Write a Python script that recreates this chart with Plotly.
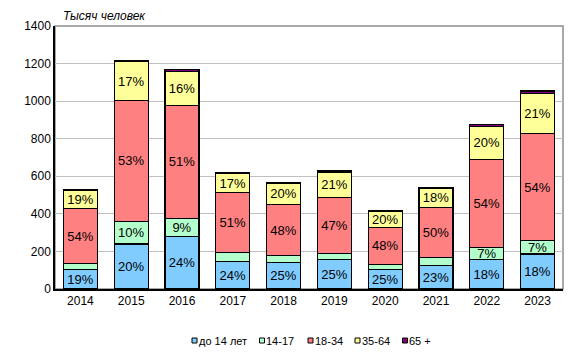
import plotly.graph_objects as go

years = ["2014", "2015", "2016", "2017", "2018", "2019", "2020", "2021", "2022", "2023"]
series_names = ["до 14 лет", "14-17", "18-34", "35-64", "65 +"]
colors = ["#80CCFF", "#B3FFCC", "#FF8080", "#FFFF99", "#800080"]

v_under14 = [103, 240, 280, 148, 142, 157, 105, 125, 158, 187]
v_14_17 = [34, 121, 96, 47, 35, 33, 26, 41, 63, 70]
v_18_34 = [290, 642, 602, 318, 274, 296, 197, 268, 470, 569]
v_35_64 = [98, 207, 181, 102, 110, 136, 85, 102, 174, 216]
v_65plus = [5, 7, 10, 5, 6, 6, 5, 6, 11, 12]

t_under14 = ["19%", "20%", "24%", "24%", "25%", "25%", "25%", "23%", "18%", "18%"]
t_14_17 = ["", "10%", "9%", "", "", "", "", "", "7%", "7%"]
t_18_34 = ["54%", "53%", "51%", "51%", "48%", "47%", "48%", "50%", "54%", "54%"]
t_35_64 = ["19%", "17%", "16%", "17%", "20%", "21%", "20%", "18%", "20%", "21%"]
t_65plus = [""] * 10

values = [v_under14, v_14_17, v_18_34, v_35_64, v_65plus]
texts = [t_under14, t_14_17, t_18_34, t_35_64, t_65plus]

fig = go.Figure()
for name, col, vals, txt in zip(series_names, colors, values, texts):
    fig.add_trace(go.Bar(
        x=years, y=vals, name=name, text=txt,
        marker=dict(color=col, line=dict(color="black", width=1.3)),
        textposition="inside", insidetextanchor="middle",
        textfont=dict(family="Arial, Liberation Sans", size=13, color="black"),
        constraintext="none", cliponaxis=False, showlegend=False,
    ))

# page has an 8px body margin, so the figure is offset by (8, 8)
fig.update_layout(
    barmode="stack", bargap=0.33,
    width=561, height=341,
    margin=dict(l=47, r=6, t=18, b=60),
    paper_bgcolor="white", plot_bgcolor="white",
    font=dict(family="Arial, Liberation Sans", size=12, color="black"),
)
fig.update_yaxes(range=[0, 1400], dtick=200, showgrid=True, gridcolor="#BFBFBF",
                 gridwidth=1, showline=True, linecolor="black", linewidth=1.5,
                 ticks="", tickfont=dict(size=12), zeroline=False)
fig.update_xaxes(showline=True, linecolor="black", linewidth=1.5, ticks="",
                 tickfont=dict(size=12))

# plot area border (top/right in gray)
fig.add_shape(type="rect", xref="paper", yref="paper", x0=0, x1=1, y0=0, y1=1,
              line=dict(color="#8C8C8C", width=1.5), layer="below")

fig.add_annotation(text="<i>Тысяч человек</i>", xref="paper", yref="paper",
                   x=7 / 508, y=1.0, yshift=18, xanchor="left", yanchor="top",
                   borderpad=0, showarrow=False, font=dict(size=12, color="black"))

# manual legend (page pixel positions of the symbol centres)
leg_x = [194.5, 262, 310.5, 357.5, 405]
leg_y = 340.5
for name, col, lx in zip(series_names, colors, leg_x):
    fig.add_shape(type="rect", xref="paper", yref="paper",
                  x0=(lx - 2.5 - 55) / 508, x1=(lx + 2.5 - 55) / 508,
                  y0=(289 - leg_y - 2.5) / 263, y1=(289 - leg_y + 2.5) / 263,
                  fillcolor=col, line=dict(color="black", width=1))
    fig.add_annotation(text=name, xref="paper", yref="paper",
                       x=(lx + 3 - 55) / 508, y=(289 - leg_y) / 263,
                       xanchor="left", yanchor="middle", showarrow=False,
                       borderpad=0, font=dict(size=11, color="black"))

fig.write_html("out.html")
